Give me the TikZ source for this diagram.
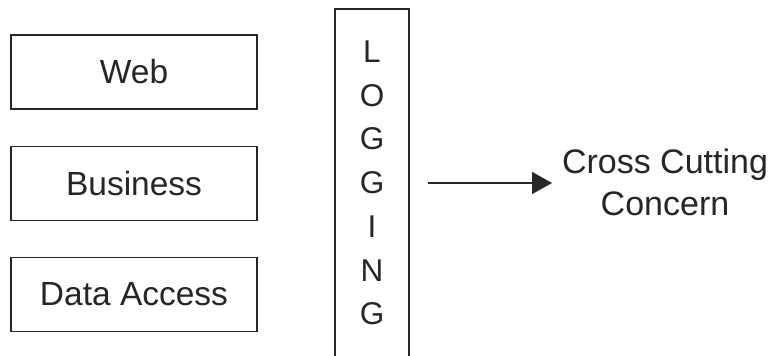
\documentclass[tikz,border=0pt]{standalone}
\usepackage{fontspec}
\setmainfont{Liberation Sans}
\usetikzlibrary{arrows.meta}
\definecolor{ink}{HTML}{262626}
\tikzset{
  layer/.style={draw=ink, line width=1.5pt, minimum width=246pt, minimum height=74pt, inner sep=0pt, text=ink, font=\fontsize{33.5}{38}\selectfont},
  frame/.style={draw=ink, line width=1.5pt},
  conn/.style={draw=ink, line width=1.6pt, -{Triangle[length=20pt,width=22pt]}},
}
\begin{document}
\begin{tikzpicture}[x=1pt,y=-1pt]
\useasboundingbox (0,0) rectangle (772,356);
\clip (0,0) rectangle (772,356);
\fill[white] (0,0) rectangle (772,356);
\node[layer] (web) at (134,72) {Web};
\node[layer] (biz) at (134,183.5) {Business};
\node[layer] (data) at (134,294.5) {Data Access};
\node[frame, minimum width=74pt, minimum height=354pt, inner sep=0pt] (log) at (372,186) {};
\node[text=ink, align=center, font=\fontsize{31.5}{43.7}\selectfont, inner sep=0pt] (logtxt) at (372,183) {L\\O\\G\\G\\I\\N\\G};
\node[text=ink, align=center, font=\fontsize{34}{42}\selectfont, inner sep=0pt] (ccc) at (665,182) {Cross Cutting\\Concern};
\coordinate (a) at (428,183);
\coordinate (b) at (552,183);
\draw[conn] (a) -- (b);
\end{tikzpicture}
\end{document}
